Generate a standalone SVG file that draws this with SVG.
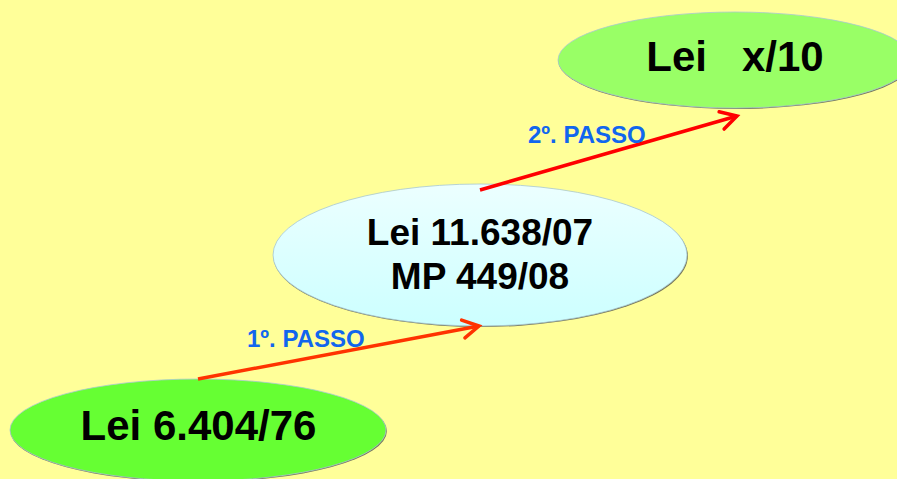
<svg xmlns="http://www.w3.org/2000/svg" width="897" height="479" viewBox="0 0 897 479">
<defs>
<style>
.lbl{font-family:"Liberation Sans",Arial,sans-serif;font-weight:bold;fill:#000;text-anchor:middle}
.step{font-family:"Liberation Sans",Arial,sans-serif;font-weight:bold;font-size:24px;fill:#1166EE}
.shadow{fill:#77775a}
.edge{stroke:#A8C8D0;stroke-width:0.8}
</style>
<linearGradient id="cyan" x1="0" y1="0" x2="0" y2="1">
<stop offset="0" stop-color="#ECFFFF"/>
<stop offset="1" stop-color="#CCFFFF"/>
</linearGradient>
<marker id="ah1" markerUnits="userSpaceOnUse" markerWidth="24" markerHeight="24" viewBox="-20 -12 24 24" refX="0" refY="0" orient="auto">
<path d="M-16,-9 L0,0 L-16,9" fill="none" stroke="#FF3300" stroke-width="3.5" stroke-linecap="round" stroke-linejoin="miter"/>
</marker>
<marker id="ah2" markerUnits="userSpaceOnUse" markerWidth="24" markerHeight="24" viewBox="-20 -12 24 24" refX="0" refY="0" orient="auto">
<path d="M-16,-9 L0,0 L-16,9" fill="none" stroke="#FF0000" stroke-width="3.5" stroke-linecap="round" stroke-linejoin="miter"/>
</marker>
</defs>
<rect width="897" height="479" fill="#FFFF99"/>
<g id="node-lei-x10">
<ellipse class="shadow" cx="735.6" cy="61" rx="177.3" ry="48"/>
<ellipse class="edge" cx="735" cy="60" rx="177" ry="48" fill="#99FF66"/>
<text class="lbl" x="735" y="71" font-size="42" xml:space="preserve" style="white-space:pre">Lei   x/10</text>
</g>
<g id="node-lei-11638">
<ellipse class="shadow" cx="480.6" cy="256" rx="207.3" ry="71"/>
<ellipse class="edge" cx="480" cy="255" rx="207" ry="71" fill="url(#cyan)"/>
<text class="lbl" x="480" y="245" font-size="37">Lei 11.638/07</text>
<text class="lbl" x="480" y="289" font-size="37">MP 449/08</text>
</g>
<g id="node-lei-6404">
<ellipse class="shadow" cx="198.6" cy="431" rx="188.3" ry="51"/>
<ellipse class="edge" cx="198" cy="430" rx="188" ry="51" fill="#66FF33"/>
<text class="lbl" x="198.5" y="440" font-size="42">Lei 6.404/76</text>
</g>
<g id="connectors">
<line x1="198" y1="379" x2="479" y2="326" stroke="#FF3300" stroke-width="3.5" marker-end="url(#ah1)"/>
<line x1="480" y1="190" x2="737" y2="116" stroke="#FF0000" stroke-width="3.5" marker-end="url(#ah2)"/>
<text class="step" x="247" y="347">1º. PASSO</text>
<text class="step" x="528" y="143">2º. PASSO</text>
</g>
</svg>
